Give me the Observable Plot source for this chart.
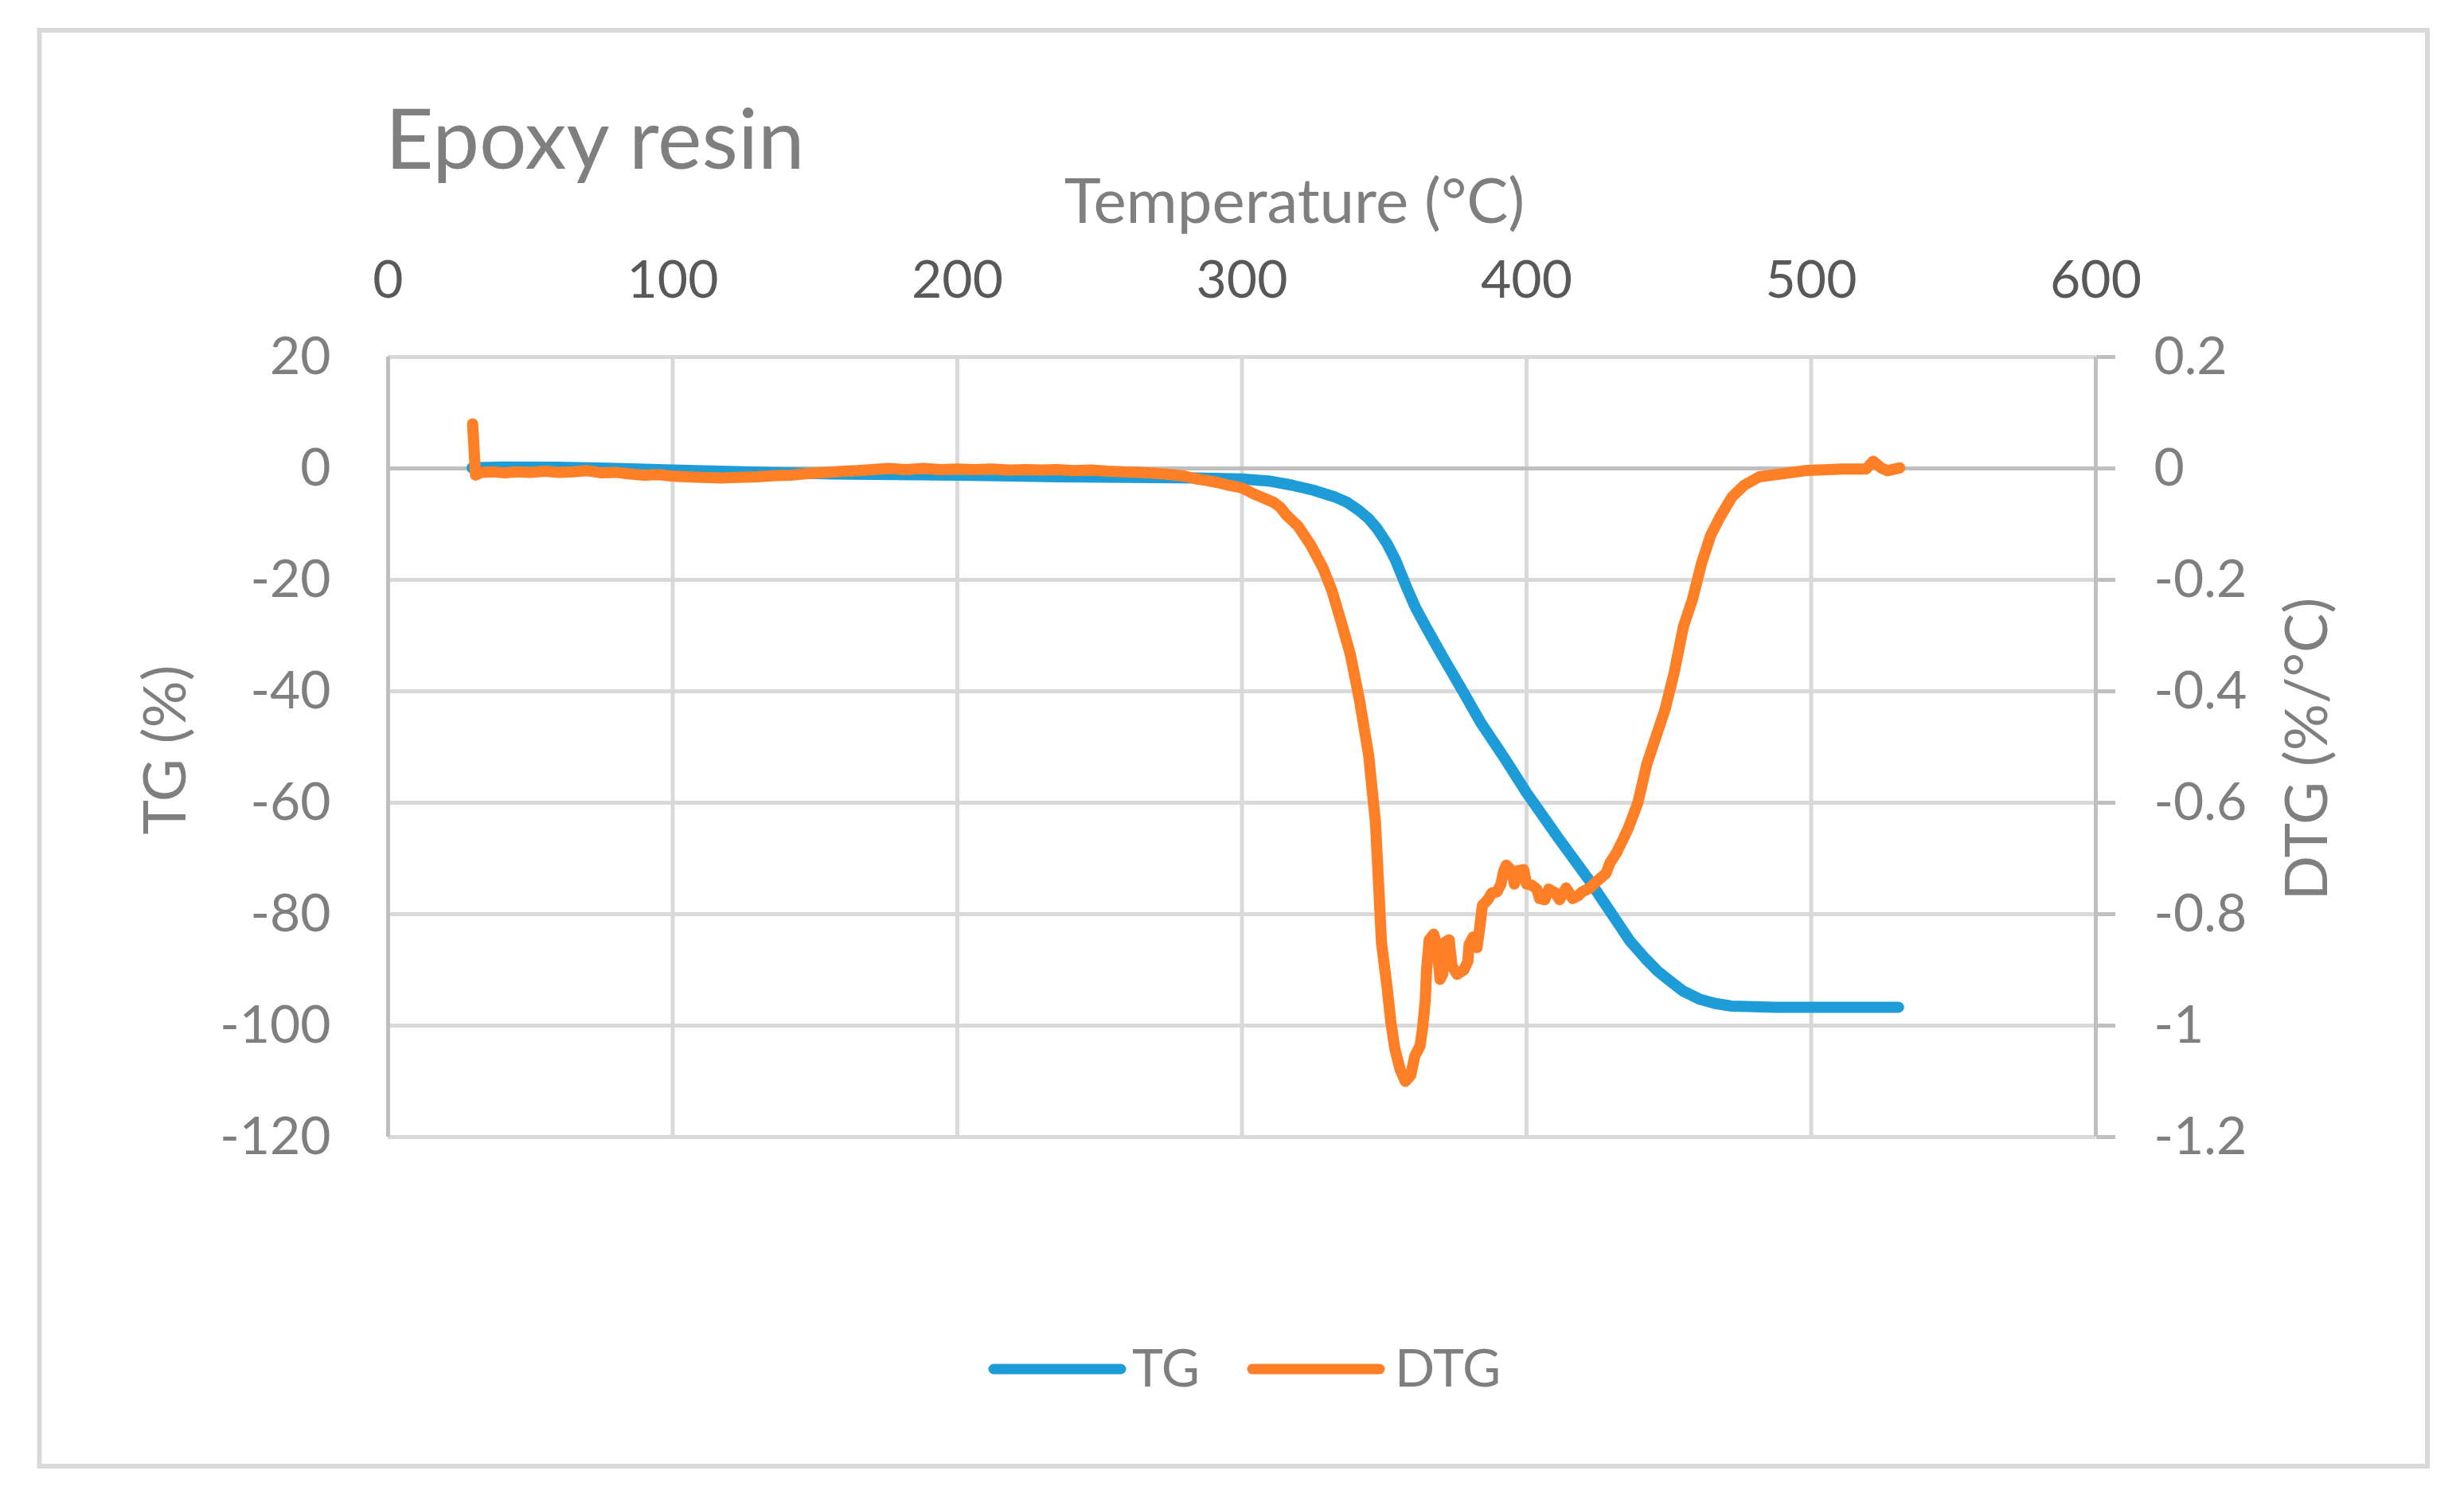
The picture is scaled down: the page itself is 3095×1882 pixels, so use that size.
<!DOCTYPE html>
<html>
<head>
<meta charset="utf-8">
<script src="https://cdn.jsdelivr.net/npm/d3@7"></script>
<script src="https://cdn.jsdelivr.net/npm/@observablehq/plot@0.6"></script>
<style>
  html, body { margin: 0; padding: 0; background: #ffffff; }
  #wrap { position: relative; width: 3095px; height: 1882px; overflow: hidden; }
  #wrap > svg { position: absolute; left: 0; top: 0; }
  #overlay { pointer-events: none; font-family: Lato, "Open Sans", sans-serif; }
</style>
</head>
<body>
<div id="wrap">
  <div id="chart"></div>
</div>
<script>
// ---------- data ----------
const tgTemp = [29.5, 40, 60, 80, 100, 125, 156, 200, 235, 260, 284, 300, 310, 317.5, 325, 332.5, 337, 341, 344.5, 347.5, 351, 354, 358, 361, 364.6, 368, 371, 377.5, 384, 392.5, 400, 411, 422, 430, 436.3, 441.8, 446, 450.4, 455, 461, 466, 472, 480, 487, 510, 530.7];
const tgValues = [0.1, 0.25, 0.2, 0.0, -0.3, -0.6, -1.0, -1.2, -1.5, -1.6, -1.7, -1.9, -2.3, -3.0, -3.9, -5.1, -6.1, -7.5, -9.0, -10.8, -13.5, -16.5, -21.5, -25.0, -28.4, -31.5, -34.2, -39.9, -45.7, -52.2, -58.2, -66.2, -73.9, -80.0, -84.8, -88.0, -90.2, -92.0, -93.8, -95.3, -96.0, -96.5, -96.6, -96.7, -96.7, -96.7];

const dtgTemp = [29.7, 30.7, 33, 37, 41, 45, 50, 55, 60, 65, 70, 75, 80, 85, 90, 95, 100, 105, 110, 117, 123, 130, 136, 142, 148, 154, 160, 165, 170, 176, 182, 188, 194, 200, 206, 212, 218, 224, 230, 235, 241, 247, 253, 258, 264, 270, 275, 280, 284, 288, 292, 296, 300, 304.7, 308, 311.2, 313.5, 315.5, 319.8, 324.1, 328.4, 331.6, 334.9, 338.1, 341.3, 344.5, 346.9, 348.1, 349.0, 350.9, 352.3, 353.7, 355.6, 357.4, 359.3, 360.7, 362.6, 363.5, 364.4, 364.9, 365.8, 367.4, 368.6, 369.6, 370.5, 371.4, 372.8, 373.8, 375.6, 378.0, 379.4, 379.8, 381.2, 382.6, 383.6, 384.5, 386.4, 387.8, 389.6, 391.0, 392.0, 392.9, 394.8, 395.7, 397.1, 399.0, 400.0, 401.8, 403.6, 404.6, 406.4, 407.8, 410.2, 411.6, 413.9, 416.2, 418.1, 419.5, 422.3, 425.1, 427.9, 429.3, 431.7, 433.5, 435.8, 439.1, 442.3, 445.5, 448.7, 451.9, 455.1, 458.3, 461.5, 464.7, 467.9, 472.2, 476.5, 481.8, 489.3, 497.9, 510.7, 519.3, 521.8, 524.6, 526.8, 531.1];
const dtgValues = [0.080, -0.012, -0.007, -0.006, -0.008, -0.006, -0.007, -0.005, -0.007, -0.006, -0.004, -0.008, -0.007, -0.010, -0.012, -0.011, -0.014, -0.015, -0.016, -0.017, -0.016, -0.015, -0.013, -0.012, -0.009, -0.007, -0.005, -0.004, -0.002, 0.000, -0.002, 0.000, -0.002, -0.001, -0.002, -0.001, -0.003, -0.002, -0.003, -0.002, -0.004, -0.003, -0.005, -0.006, -0.007, -0.009, -0.011, -0.014, -0.019, -0.022, -0.026, -0.031, -0.035, -0.047, -0.054, -0.061, -0.070, -0.083, -0.104, -0.137, -0.178, -0.219, -0.276, -0.334, -0.416, -0.514, -0.635, -0.755, -0.850, -0.927, -0.993, -1.041, -1.079, -1.100, -1.089, -1.055, -1.036, -1.003, -0.955, -0.898, -0.846, -0.836, -0.860, -0.917, -0.908, -0.850, -0.846, -0.893, -0.908, -0.900, -0.884, -0.855, -0.841, -0.860, -0.822, -0.784, -0.774, -0.762, -0.760, -0.746, -0.722, -0.712, -0.722, -0.746, -0.722, -0.720, -0.746, -0.748, -0.755, -0.772, -0.774, -0.755, -0.762, -0.774, -0.753, -0.772, -0.767, -0.760, -0.753, -0.739, -0.727, -0.708, -0.689, -0.670, -0.645, -0.600, -0.530, -0.481, -0.432, -0.366, -0.284, -0.235, -0.170, -0.120, -0.088, -0.051, -0.030, -0.015, -0.010, -0.004, -0.001, -0.001, 0.013, 0.001, -0.004, 0.001];

const xTicks = [0, 100, 200, 300, 400, 500, 600];
const yTicks = [20, 0, -20, -40, -60, -80, -100, -120];
const dtgTickLabels = ["0.2", "0", "-0.2", "-0.4", "-0.6", "-0.8", "-1", "-1.2"];

const seriesNames = ["TG", "DTG"];
const seriesColors = ["#1E9CD8", "#FF7F27"];
const titleText = "Epoxy resin";
const xTitle = "Temperature (°C)";
const yLeftTitle = "TG (%)";
const yRightTitle = "DTG (%/°C)";

// tables built from the arrays
const tg = tgTemp.map((t, i) => ({t, v: tgValues[i]}));
const dtg = dtgTemp.map((t, i) => ({t, v: dtgValues[i]}));
const dtgLabelOf = new Map(yTicks.map((y, i) => [y, dtgTickLabels[i]]));

const GRID = "#d9d9d9", AXIS = "#bfbfbf";

const chart = Plot.plot({
  width: 3095,
  height: 1882,
  marginLeft: 487,
  marginRight: 3095 - 2632,
  marginTop: 448,
  marginBottom: 1882 - 1428,
  x: {domain: [0, 600]},
  y: {domain: [-120, 20]},
  style: {fontFamily: "Lato, 'Open Sans', sans-serif", fontSize: "66px", background: "transparent", overflow: "visible"},
  marks: [
    Plot.ruleX(xTicks.filter(d => d !== 0 && d !== 600), {x: d => d, stroke: GRID, strokeWidth: 5}),
    Plot.ruleY(yTicks.filter(d => d !== 0), {y: d => d, stroke: GRID, strokeWidth: 5}),
    Plot.ruleY([0], {y: d => d, stroke: AXIS, strokeWidth: 5}),
    Plot.ruleX([0, 600], {x: d => d, stroke: AXIS, strokeWidth: 5}),
    Plot.axisX({anchor: "top", ticks: xTicks, tickSize: 0, tickPadding: 75, tickFormat: d => String(d), color: "#595959", fontSize: 66, label: null}),
    Plot.axisY({anchor: "left", ticks: yTicks, tickSize: 0, tickPadding: 72, tickFormat: d => String(d), color: "#7f7f7f", fontSize: 66, label: null}),
    Plot.axisY({anchor: "right", ticks: yTicks, tickSize: 24, tickPadding: 49, strokeWidth: 5, stroke: AXIS, fill: "#7f7f7f", tickFormat: d => dtgLabelOf.get(d), fontSize: 66, label: null}),
    Plot.line(tg, {x: "t", y: "v", stroke: seriesColors[0], strokeWidth: 14, strokeLinecap: "round", strokeLinejoin: "round"}),
    Plot.line(dtg, {x: "t", y: d => d.v * 100, stroke: seriesColors[1], strokeWidth: 14, strokeLinecap: "round", strokeLinejoin: "round"})
  ]
});
document.getElementById("chart").appendChild(chart);

// overlay: frame, title, axis titles, legend
const NS = "http://www.w3.org/2000/svg";
const ov = document.createElementNS(NS, "svg");
ov.setAttribute("id", "overlay");
ov.setAttribute("width", 3095);
ov.setAttribute("height", 1882);
ov.style.position = "absolute"; ov.style.left = "0"; ov.style.top = "0";
function el(tag, attrs, text) {
  const e = document.createElementNS(NS, tag);
  for (const k in attrs) e.setAttribute(k, attrs[k]);
  if (text != null) e.textContent = text;
  ov.appendChild(e);
  return e;
}
el("rect", {x: 49.5, y: 38, width: 2999.5, height: 1804, fill: "none", stroke: GRID, "stroke-width": 6});
el("text", {x: 484, y: 212, "font-size": 105, fill: "#7f7f7f"}, titleText);
el("text", {x: 1626, y: 280, "font-size": 78, fill: "#7f7f7f", "text-anchor": "middle"}, xTitle);
el("text", {x: 0, y: 0, "font-size": 74, fill: "#7f7f7f", "text-anchor": "middle", transform: "translate(233,942) rotate(-90)"}, yLeftTitle);
el("text", {x: 0, y: 0, "font-size": 74, fill: "#7f7f7f", "text-anchor": "middle", transform: "translate(2923,941) rotate(-90)"}, yRightTitle);
// legend
const legendX = [[1248, 1408, 1422], [1573, 1733, 1752]];
seriesNames.forEach((name, i) => {
  const [a, b, tx] = legendX[i];
  el("line", {x1: a, x2: b, y1: 1720, y2: 1720, stroke: seriesColors[i], "stroke-width": 13, "stroke-linecap": "round"});
  el("text", {x: tx, y: 1742, "font-size": 66, fill: "#7f7f7f"}, name);
});
document.getElementById("wrap").appendChild(ov);
</script>
</body>
</html>
